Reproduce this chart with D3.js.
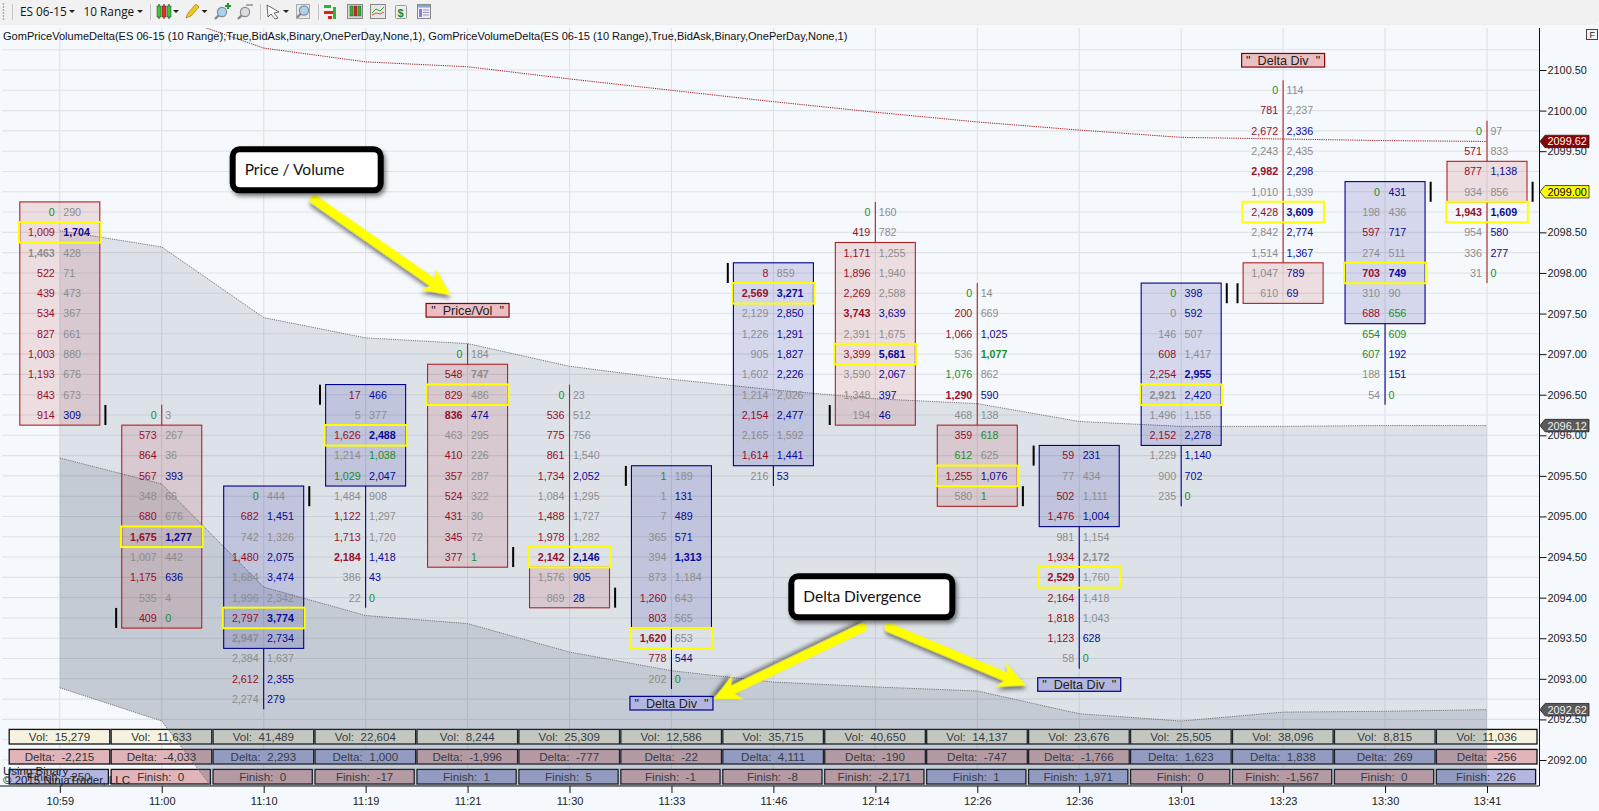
<!DOCTYPE html>
<html><head><meta charset="utf-8">
<script src="https://cdn.jsdelivr.net/npm/d3@7"></script>
<style>
html,body{margin:0;padding:0;background:#f5f8fc;overflow:hidden}
svg{display:block}
text{font-family:"Liberation Sans",Arial,sans-serif}
</style></head><body>
<svg id="c" width="1599" height="811"></svg>
<script>
// ---------- DATA ----------
const times = ["10:59","11:00","11:10","11:19","11:21","11:30","11:33","11:46","12:14","12:26","12:36","13:01","13:23","13:30","13:41"];
const topPrices = [2098.75,2096.25,2095.25,2096.5,2097.0,2096.5,2095.5,2098.0,2098.75,2097.75,2095.75,2097.75,2100.25,2099.0,2099.75];
const bodyHigh = [2098.75,2096.0,2095.25,2096.5,2096.75,2094.25,2095.5,2098.0,2098.25,2096.0,2095.75,2097.75,2098.0,2099.0,2099.25];
const bodyLow  = [2096.25,2093.75,2093.5,2095.5,2094.5,2094.0,2093.75,2095.75,2096.25,2095.25,2095.0,2096.0,2097.75,2097.5,2099.0];
const pocPrices = [2098.5,2094.75,2093.75,2096.0,2096.5,2094.5,2093.5,2097.75,2097.0,2095.5,2094.25,2096.5,2098.75,2098.0,2098.75];
const barDirs = "ddUUddUUddUUdUd";
const markSides = "RLRLRRLLLRLRLRR";
const markPrices = [2096.25,2093.75,2095.25,2096.5,2094.5,2094.0,2095.5,2098.0,2096.25,2095.25,2095.75,2097.75,2097.75,2099.0,2099.0];
const bids = [
 [0,1009,1463,522,439,534,827,1003,1193,843,914],
 [0,573,864,567,348,680,1675,1007,1175,535,409],
 [0,682,742,1480,1684,1996,2797,2947,2384,2612,2274],
 [17,5,1626,1214,1029,1484,1122,1713,2184,386,22],
 [0,548,829,836,463,410,357,524,431,345,377],
 [0,536,775,861,1734,1084,1488,1978,2142,1576,869],
 [1,1,7,365,394,873,1260,803,1620,778,202],
 [8,2569,2129,1226,905,1602,1214,2154,2165,1614,216],
 [0,419,1171,1896,2269,3743,2391,3399,3590,1348,194],
 [0,200,1066,536,1076,1290,468,359,612,1255,580],
 [59,77,502,1476,981,1934,2529,2164,1818,1123,58],
 [0,0,146,608,2254,2921,1496,2152,1229,900,235],
 [0,781,2672,2243,2982,1010,2428,2842,1514,1047,610],
 [0,198,597,274,703,310,688,654,607,188,54],
 [0,571,877,934,1943,954,336,31]
];
const asks = [
 [290,1704,428,71,473,367,661,880,676,673,309],
 [3,267,36,393,66,676,1277,442,636,4,0],
 [444,1451,1326,2075,3474,2342,3774,2734,1637,2355,279],
 [466,377,2488,1038,2047,908,1297,1720,1418,43,0],
 [184,747,486,474,295,226,287,322,30,72,1],
 [23,512,756,1540,2052,1295,1727,1282,2146,905,28],
 [189,131,489,571,1313,1184,643,565,653,544,0],
 [859,3271,2850,1291,1827,2226,2026,2477,1592,1441,53],
 [160,782,1255,1940,2588,3639,1675,5681,2067,397,46],
 [14,669,1025,1077,862,590,138,618,625,1076,1],
 [231,434,1111,1004,1154,2172,1760,1418,1043,628,0],
 [398,592,507,1417,2955,2420,1155,2278,1140,702,0],
 [114,2237,2336,2435,2298,1939,3609,2774,1367,789,69],
 [431,436,717,511,749,90,656,609,192,151,0],
 [97,833,1138,856,1609,580,277,0]
];
// per cell class: r red, g gray, b blue, n green; capital = bold
const bidClass = ["nrGrrrrrrrr","nrrrgrRgrgr","nrgrggrGgrg","rgrgngrrRgg","nrrRgrrrrrr","nrrrrgrrRgg","ngggggrrRrg","rRgggggrgrg","nrrrrRgrggg","nrrgnRgrnrg","rgrrgrRrrrg","nggrrGgrggg","nrrgRgrgggg","ngrgRgrnngg","nrrgRggg"];
const askClass = ["gBggggggggb","gggbggBgbgn","gbgbbgBbgbb","bgBnbgggbbn","gGgbggggggn","ggggbgggBbb","gbbbBggggbn","gBbbbbgbgbb","gggggbgBbbb","ggbNgbgngbn","bggbgGgggbn","bbggBbgbbbn","ggbgbgBbbbb","bgbgBgnnbbn","ggbgBbbn"];
const vols = [15279,11633,41489,22604,8244,25309,12586,35715,40650,14137,23676,25505,38096,8815,11036];
const deltas = [-2215,-4033,2293,1000,-1996,-777,-22,4111,-190,-747,-1766,1623,1838,269,-256];
const finishes = [-250,0,0,-17,1,5,-1,-8,-2171,1,1971,0,-1567,0,226];
const finishDirs = "UdddUUdddUUdddU";
const redLine = [2102.2,2101.21,2100.77,2100.60,2100.54,2100.39,2100.25,2100.11,2099.98,2099.86,2099.76,2099.67,2099.65,2099.63,2099.62];
const bandUpper = [2098.52,2098.32,2097.45,2097.20,2097.13,2096.85,2096.69,2096.56,2096.45,2096.39,2096.17,2096.11,2096.11,2096.12,2096.12];
const bandMiddle = [2095.72,2095.40,2094.13,2093.78,2093.68,2093.33,2093.10,2092.96,2092.90,2092.85,2092.57,2092.48,2092.59,2092.60,2092.62];
const bandLower = [2092.89,2092.48,2090.82,2090.5,2090.4,2090.1,2089.9,2089.8,2089.75,2089.7,2089.4,2089.3,2089.4,2089.4,2089.4];
const yTicks = ["2100.50","2100.00","2099.50","2099.00","2098.50","2098.00","2097.50","2097.00","2096.50","2096.00","2095.50","2095.00","2094.50","2094.00","2093.50","2093.00","2092.50","2092.00"];
const priceTags = [[2099.62,"#8b0000","#fff"],[2099.00,"#ffff00","#000"],[2096.12,"#5a5a5a","#eee"],[2092.62,"#5a5a5a","#eee"]];
const titleText = "GomPriceVolumeDelta(ES 06-15 (10 Range),True,BidAsk,Binary,OnePerDay,None,1), GomPriceVolumeDelta(ES 06-15 (10 Range),True,BidAsk,Binary,OnePerDay,None,1)";

// ---------- SCALES ----------
const axisX = 1539.5, axisY = 786, plotTop = 28;
const x = d3.scalePoint().domain(times).range([59.8,1487]);
const y = d3.scaleLinear().domain([2100.5,2092]).range([70,760]);
const fmt = v => d3.format(",")(v).replace("\u2212","-");
const svg = d3.select("#c");
const defs = svg.append("defs");
defs.append("clipPath").attr("id","plot").append("rect").attr("x",0).attr("y",plotTop).attr("width",axisX).attr("height",axisY-plotTop);
const f = defs.append("filter").attr("id","sh").attr("x","-30%").attr("y","-30%").attr("width","170%").attr("height","170%");
f.append("feDropShadow").attr("dx",2).attr("dy",3).attr("stdDeviation",2).attr("flood-color","#000").attr("flood-opacity",.5);

svg.append("rect").attr("width",1599).attr("height",811).attr("fill","#f5f8fc");

// ---------- GRID ----------
const grid = svg.append("g");
grid.selectAll("line.h").data(d3.range(2092,2100.76,.25)).join("line").attr("class","h")
  .attr("x1",2).attr("x2",axisX).attr("y1",d=>y(d)).attr("y2",d=>y(d)).attr("stroke","#dfe2e6").attr("stroke-width",1.1);
grid.selectAll("line.v").data(times).join("line").attr("class","v")
  .attr("x1",d=>x(d)).attr("x2",d=>x(d)).attr("y1",plotTop).attr("y2",axisY).attr("stroke","#dfe1e5").attr("stroke-width",1.1);

// ---------- SUMMARY CELLS ----------
const cells = svg.append("g");
function row(name, values, top, w, fill){
  const g = cells.selectAll("g."+name).data(values).join("g").attr("class",name)
    .attr("transform",(d,i)=>`translate(${x(times[i])-50.6},${top})`);
  g.append("rect").attr("width",w).attr("height",14.6).attr("fill",fill).attr("stroke","#111").attr("stroke-width",1.3);
  return g;
}
function rowText(g, label, w){
  g.append("text").attr("x",w/2).attr("y",11.3).attr("text-anchor","middle").attr("font-size",11.6).attr("fill","#333")
   .attr("xml:space","preserve").style("white-space","pre").text(d=>`${label}:  ${fmt(d)}`);
}
rowText(row("vol",vols,729.4,100.6,"#f5f3df"),"Vol",100.6);
rowText(row("del",deltas,749.4,100.6,d=>d<0?"#e0b4b8":"#b3b6e0"),"Delta",100.6);
rowText(row("fin",finishes,769.4,99.2,(d,i)=>finishDirs[i]==="U"?"#b3b6e0":"#e0b4b8"),"Finish",99.2);

// ---------- BANDS ----------
const plot = svg.append("g").attr("clip-path","url(#plot)");
const area = (a,b)=>d3.area().x((d,i)=>x(times[i])).y0((d,i)=>y(b[i])).y1((d,i)=>y(a[i]))(times);
const line = a=>d3.line().x((d,i)=>x(times[i])).y((d,i)=>y(a[i]))(times);
plot.append("path").attr("d",area(bandUpper,bandMiddle)).attr("fill","rgb(69,85,110)").attr("fill-opacity",.135);
plot.append("path").attr("d",area(bandMiddle,bandLower)).attr("fill","rgb(69,85,110)").attr("fill-opacity",.28);
[[bandUpper,"#777"],[bandMiddle,"#777"],[bandLower,"#777"],[redLine,"#a02020"]].forEach(([a,c])=>{
  plot.append("path").attr("d",line(a)).attr("fill","none").attr("stroke",c).attr("stroke-width",1).attr("stroke-dasharray","1.2,1");
});

// ---------- BARS ----------
const colour = {r:"#97102a",g:"#8d8d8d",b:"#0a0a96",n:"#1a8f2a"};
const bars = svg.append("g").selectAll("g").data(times).join("g");
bars.each(function(t,i){
  const g = d3.select(this), cx = x(t), n = bids[i].length;
  const stroke = barDirs[i]==="U"?"#00008b":"#b22222";
  const tint = barDirs[i]==="U"?"rgba(0,0,139,.13)":"rgba(178,34,34,.125)";
  const lo = topPrices[i]-(n-1)*.25, half=.125;
  // wick: only outside the body
  [[topPrices[i]+half,bodyHigh[i]+half],[bodyLow[i]-half,lo-half]].forEach(([a,b])=>{
    if(y(b)-y(a)>0.5) g.append("line").attr("x1",cx).attr("x2",cx).attr("y1",y(a)).attr("y2",y(b)).attr("stroke",stroke).attr("stroke-width",1.1);
  });
  // body
  g.append("rect").attr("x",cx-40).attr("width",80).attr("y",y(bodyHigh[i]+half)).attr("height",y(bodyLow[i]-half)-y(bodyHigh[i]+half))
    .attr("fill",tint).attr("stroke",stroke).attr("stroke-width",1.1);
  // open / close mark
  const side = markSides[i]==="R"?1:-1;
  g.append("line").attr("x1",cx+side*45.6).attr("x2",cx+side*45.6).attr("y1",y(markPrices[i])-10).attr("y2",y(markPrices[i])+10).attr("stroke","#000").attr("stroke-width",2);
  // POC
  g.append("rect").attr("x",cx-40.8).attr("width",81.6).attr("y",y(pocPrices[i])-10.3).attr("height",20.6).attr("fill","none").attr("stroke","#ffff00").attr("stroke-width",2);
  // cells
  const rows = d3.range(n);
  const style = (sel,cls)=>sel.attr("fill",j=>colour[cls[i][j].toLowerCase()]).attr("font-weight",j=>cls[i][j]===cls[i][j].toUpperCase()?"bold":"normal");
  style(g.selectAll("text.b").data(rows).join("text").attr("class","b").attr("x",cx-5).attr("text-anchor","end")
    .attr("y",j=>y(topPrices[i]-j*.25)+3.9).attr("font-size",10.7).text(j=>fmt(bids[i][j])),bidClass);
  style(g.selectAll("text.a").data(rows).join("text").attr("class","a").attr("x",cx+3.4).attr("text-anchor","start")
    .attr("y",j=>y(topPrices[i]-j*.25)+3.9).attr("font-size",10.7).text(j=>fmt(asks[i][j])),askClass);
});

// ---------- BAR LABELS ----------
function barLabel(time,price,label,red){
  const cx=x(time), cy=y(price), w=83;
  const g=svg.append("g");
  g.append("rect").attr("x",cx-w/2).attr("y",cy-6.8).attr("width",w).attr("height",13.6)
   .attr("fill",red?"#e9bfc3":"#b3b6de").attr("stroke",red?"#8b0000":"#00008b").attr("stroke-width",1.2);
  g.append("text").attr("x",cx).attr("y",cy+4.6).attr("text-anchor","middle").attr("font-size",12.6).attr("fill","#222")
   .attr("xml:space","preserve").style("white-space","pre").text(`"  ${label}  "`);
}
barLabel("11:21",2097.54,"Price/Vol",true);
barLabel("11:33",2092.7,"Delta Div",false);
barLabel("12:36",2092.93,"Delta Div",false);
barLabel("13:23",2100.62,"Delta Div",true);

// ---------- CALLOUTS ----------
function arrow(x1,p1,x2,p2){
  const ax=x1, ay=y(p1), bx=x2, by=y(p2);
  const ang=Math.atan2(by-ay,bx-ax), L=Math.hypot(bx-ax,by-ay);
  const g=svg.append("g").attr("transform",`translate(${ax},${ay}) rotate(${ang*180/Math.PI})`).attr("filter","url(#sh)");
  g.append("line").attr("x1",0).attr("y1",0).attr("x2",L-14).attr("y2",0).attr("stroke","#ffff00").attr("stroke-width",9).attr("stroke-linecap","round");
  g.append("path").attr("d",`M${L},0L${L-27},-13L${L-19},0L${L-27},13Z`).attr("fill","#ffff00");
}
function callout(cx,cp,w,h,label,tx){
  const gx=cx-w/2, gy=y(cp)-h/2;
  const g=svg.append("g");
  g.append("rect").attr("x",gx).attr("y",gy).attr("width",w).attr("height",h).attr("rx",7)
    .attr("fill","#fff").attr("stroke","#000").attr("stroke-width",6).attr("filter","url(#sh)");
  g.append("text").attr("x",gx+tx).attr("y",gy+h/2+5.6).attr("font-size",15.5).attr("fill","#111").style("font-family","Lato,'Open Sans',sans-serif").text(label);
}
arrow(x("11:10")+51,2098.9,x("11:21")-17,2097.73);
arrow(x("11:46")+89,2093.63,x("11:33")+42,2092.75);
arrow(x("12:14")+14,2093.63,x("12:26")+48.5,2092.92);
callout(x("11:10")+43,2099.27,148,41,"Price / Volume",12);
callout(x("12:14")-3.5,2094.01,161,41,"Delta Divergence",12);

// ---------- Y AXIS ----------
const yAxis = d3.axisRight(y).tickValues(yTicks.map(Number)).tickFormat((d,i)=>yTicks[i]).tickSize(7).tickPadding(1);
const ya = svg.append("g").attr("transform",`translate(${axisX},0)`).call(yAxis);
ya.select(".domain").remove();
ya.selectAll("text").attr("font-size",10.9).attr("fill","#222").style("font-family",'"Liberation Sans",Arial,sans-serif');
ya.selectAll("line").attr("stroke","#111");
svg.append("line").attr("x1",axisX).attr("x2",axisX).attr("y1",plotTop).attr("y2",axisY).attr("stroke","#111");

// ---------- PRICE TAGS ----------
const tags = svg.append("g").selectAll("g").data(priceTags).join("g").attr("transform",d=>`translate(${axisX+.5},${y(d[0])})`);
tags.append("path").attr("d","M0,0L5,-6.2H49V6.2H5Z").attr("fill",d=>d[1]).attr("stroke","#222").attr("stroke-width",.8);
tags.append("text").attr("x",7.5).attr("y",4).attr("font-size",10.9).attr("fill",d=>d[2]).text(d=>d[0].toFixed(2));

// ---------- X AXIS ----------
const xAxis = d3.axisBottom(x).tickSize(7).tickPadding(4);
const xa = svg.append("g").attr("transform",`translate(0,${axisY})`).call(xAxis);
xa.select(".domain").remove();
xa.selectAll("text").attr("font-size",11).attr("fill","#222").style("font-family",'"Liberation Sans",Arial,sans-serif');
xa.selectAll("line").attr("stroke","#111");
svg.append("line").attr("x1",0).attr("x2",axisX).attr("y1",axisY).attr("y2",axisY).attr("stroke","#111");

// ---------- TITLE / FOOT ----------
svg.append("text").attr("x",3).attr("y",40).attr("font-size",11.07).attr("fill","#111").text(titleText);
svg.append("text").attr("x",3).attr("y",775).attr("font-size",11.5).attr("fill","#222").text("Using Binary");
svg.append("text").attr("x",3).attr("y",784).attr("font-size",11.5).attr("fill","#222").text("© 2015 NinjaTrader, LLC");
const fbox = svg.append("g");
fbox.append("rect").attr("x",1586.5).attr("y",29.5).attr("width",11).attr("height",10).attr("fill","#f4f4f4").attr("stroke","#444");
fbox.append("text").attr("x",1589.5).attr("y",38).attr("font-size",9).attr("fill","#222").text("F");

// ---------- TOOLBAR ----------
const tb = svg.append("g");
tb.append("path").attr("d","M0,0H1599V19Q1599,24 1594,24H5Q0,24 0,19Z").attr("fill","#f1f1f1");
tb.append("line").attr("x1",0).attr("x2",1599).attr("y1",24.5).attr("y2",24.5).attr("stroke","#eef0f3");
const ui = "'Open Sans','Noto Sans',sans-serif";
[["ES 06-15",20],["10 Range",83.5]].forEach(([t,px])=>tb.append("text").attr("x",px).attr("y",15.5).attr("font-size",11.8).attr("fill","#111").style("font-family",ui).text(t));
[72,140,176,204.5,286].forEach(px=>tb.append("path").attr("d",`M${px-3},10h6l-3,3z`).attr("fill","#222"));
[12,150,260,318].forEach(px=>tb.append("line").attr("x1",px+.5).attr("x2",px+.5).attr("y1",4).attr("y2",20).attr("stroke","#c4c4c4"));
tb.selectAll("circle.grip").data([3,6,9,12,15,18]).join("circle").attr("cx",3.5).attr("cy",d=>d+1).attr("r",.9).attr("fill","#aaa");
// candle icon
[[157,"#3cc832"],[162,"#e83020"],[167,"#3cc832"]].forEach(([px,c])=>{
  tb.append("line").attr("x1",px+2).attr("x2",px+2).attr("y1",4).attr("y2",19).attr("stroke","#222");
  tb.append("rect").attr("x",px).attr("y",6).attr("width",4).attr("height",11).attr("fill",c).attr("stroke","#333").attr("stroke-width",.5);
});
// pencil
tb.append("path").attr("d","M186,18L188,13L196,4L199,7L191,16Z").attr("fill","#f2c71c").attr("stroke","#8a6a10").attr("stroke-width",.6);
// magnifiers
function mag(cx,cy,col){
  tb.append("line").attr("x1",cx-3).attr("y1",cy+3).attr("x2",cx-7).attr("y2",cy+7).attr("stroke","#888").attr("stroke-width",2.4);
  tb.append("circle").attr("cx",cx).attr("cy",cy).attr("r",4.6).attr("fill",col).attr("stroke","#889").attr("stroke-width",1.2);
}
mag(222,12,"#a8d4f0"); tb.append("path").attr("d","M225,6h6M228,3v6").attr("stroke","#1a9a2a").attr("stroke-width",2);
mag(245,12,"#dcdcdc"); tb.append("path").attr("d","M246,5h7").attr("stroke","#aaa").attr("stroke-width",2);
// cursor
tb.append("path").attr("d","M267,5L279,12L274,13L278,18L275,19L271,14L268,17Z").attr("fill","#fff").attr("stroke","#444").attr("stroke-width",.8);
tb.append("rect").attr("x",296.5).attr("y",4.5).attr("width",13).attr("height",14).attr("fill","#e8e8e8").attr("stroke","#aaa");
mag(304,10.5,"#a8d4f0");
// strategy icons
tb.append("rect").attr("x",324).attr("y",5).attr("width",7).attr("height",3).attr("fill","#2fb52f");
tb.append("rect").attr("x",324).attr("y",11).attr("width",9).attr("height",3).attr("fill","#e02020");
tb.append("rect").attr("x",333).attr("y",7).attr("width",3).attr("height",12).attr("fill","#2fb52f");
tb.append("rect").attr("x",328).attr("y",16).attr("width",4).attr("height",3).attr("fill","#e02020");
tb.append("rect").attr("x",347.5).attr("y",4.5).attr("width",15).attr("height",14).attr("fill","#d8d8d8").attr("stroke","#888");
[[350,"#2fb52f"],[354,"#e02020"],[358,"#2fb52f"]].forEach(([px,c])=>tb.append("rect").attr("x",px).attr("y",6).attr("width",3).attr("height",10).attr("fill",c).attr("stroke","#333").attr("stroke-width",.4));
tb.append("rect").attr("x",370.5).attr("y",4.5).attr("width",15).attr("height",14).attr("fill","#e6e6e6").attr("stroke","#888");
tb.append("path").attr("d","M372,13L376,9L380,11L384,7").attr("fill","none").attr("stroke","#2fa52f");
tb.append("path").attr("d","M372,15L376,13L380,14L384,12").attr("fill","none").attr("stroke","#e05050");
tb.append("rect").attr("x",395.5).attr("y",5.5).attr("width",11).attr("height",13).attr("rx",1).attr("fill","#eee").attr("stroke","#999");
tb.append("text").attr("x",397.6).attr("y",16.5).attr("font-size",11).attr("font-weight","bold").attr("fill","#1a8a2a").text("$");
tb.append("rect").attr("x",417.5).attr("y",4.5).attr("width",13).attr("height",14).attr("fill","#eef").attr("stroke","#888");
tb.append("rect").attr("x",418).attr("y",5).attr("width",12).attr("height",2.5).attr("fill","#7aa8d8");
tb.append("rect").attr("x",419).attr("y",9).attr("width",3).attr("height",8).attr("fill","#a070e8");
tb.append("path").attr("d","M423,10h6M423,12.5h6M423,15h6").attr("stroke","#99a").attr("stroke-width",1);
</script>
</body></html>
